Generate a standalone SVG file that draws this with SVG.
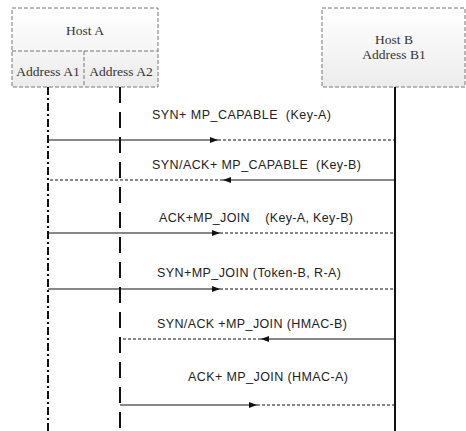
<svg xmlns="http://www.w3.org/2000/svg" width="466" height="431" viewBox="0 0 466 431">
<style>
.box{fill:url(#g);stroke:#777;stroke-width:1;stroke-dasharray:4 2}
.ht{font-family:"Liberation Serif",serif;font-size:13.5px;fill:#333;text-anchor:middle}
.lb{font-family:"Liberation Sans",Arial,sans-serif;font-size:12.5px;fill:#222}
.sol{stroke:#111;stroke-width:1;fill:none}
.dsh{stroke:#111;stroke-width:1;fill:none;stroke-dasharray:3 2}
</style>
<defs>
<linearGradient id="g" x1="0" y1="0" x2="0" y2="1"><stop offset="0" stop-color="#ffffff"/><stop offset="1" stop-color="#ececec"/></linearGradient>
<marker id="ah" viewBox="0 0 8 6" refX="8" refY="3" markerWidth="8" markerHeight="6" orient="auto" markerUnits="userSpaceOnUse"><path d="M0,0 L8,3 L0,6 Z" fill="#111"/></marker>
</defs>
<rect width="466" height="431" fill="#fff"/>
<g id="hostA">
<rect class="box" x="12" y="8" width="146" height="79"/>
<line x1="12" y1="51" x2="158" y2="51" stroke="#777" stroke-dasharray="4 2"/>
<line x1="84" y1="51" x2="84" y2="87" stroke="#777" stroke-dasharray="4 2"/>
<text class="ht" x="85" y="35">Host A</text>
<text class="ht" x="48" y="76">Address A1</text>
<text class="ht" x="121" y="76">Address A2</text>
</g>
<g id="hostB">
<rect class="box" x="322" y="8" width="143" height="79"/>
<text class="ht" x="394" y="44">Host B</text>
<text class="ht" x="394" y="59">Address B1</text>
</g>
<g id="lifelines">
<line x1="48" y1="87" x2="48" y2="431" stroke="#111" stroke-width="2" stroke-dasharray="8 3 2 3"/>
<line x1="120" y1="87" x2="120" y2="431" stroke="#111" stroke-width="2" stroke-dasharray="16 9"/>
<line x1="395" y1="87" x2="395" y2="431" stroke="#111" stroke-width="2"/>
</g>
<g id="connectors">
<line class="sol" x1="48" y1="140" x2="218" y2="140" marker-end="url(#ah)"/>
<line class="dsh" x1="218" y1="140" x2="395" y2="140"/>
<line class="sol" x1="395" y1="180" x2="223" y2="180" marker-end="url(#ah)"/>
<line class="dsh" x1="223" y1="180" x2="48" y2="180"/>
<line class="sol" x1="48" y1="233" x2="220" y2="233" marker-end="url(#ah)"/>
<line class="dsh" x1="220" y1="233" x2="395" y2="233"/>
<line class="sol" x1="48" y1="289" x2="220" y2="289" marker-end="url(#ah)"/>
<line class="dsh" x1="220" y1="289" x2="395" y2="289"/>
<line class="sol" x1="395" y1="339" x2="261" y2="339" marker-end="url(#ah)"/>
<line class="dsh" x1="261" y1="339" x2="120" y2="339"/>
<line class="sol" x1="120" y1="405" x2="257" y2="405" marker-end="url(#ah)"/>
<line class="dsh" x1="257" y1="405" x2="395" y2="405"/>
</g>
<g id="labels">
<text class="lb" x="152" y="119" textLength="179" xml:space="preserve">SYN+ MP_CAPABLE  (Key-A)</text>
<text class="lb" x="152" y="169" textLength="209" xml:space="preserve">SYN/ACK+ MP_CAPABLE  (Key-B)</text>
<text class="lb" x="159" y="222" textLength="194" xml:space="preserve">ACK+MP_JOIN    (Key-A, Key-B)</text>
<text class="lb" x="157" y="277" textLength="184" xml:space="preserve">SYN+MP_JOIN (Token-B, R-A)</text>
<text class="lb" x="157" y="328" textLength="190" xml:space="preserve">SYN/ACK +MP_JOIN (HMAC-B)</text>
<text class="lb" x="188" y="381" textLength="160" xml:space="preserve">ACK+ MP_JOIN (HMAC-A)</text>
</g>
</svg>
